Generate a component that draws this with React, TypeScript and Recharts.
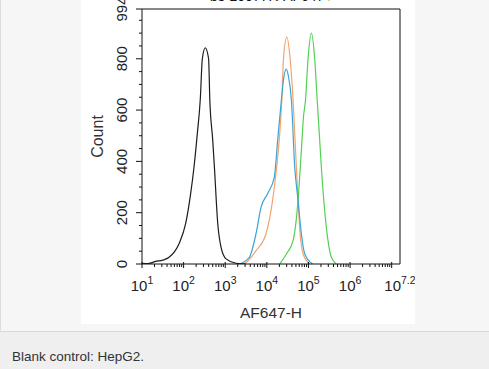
import { ComposedChart, Line, XAxis, YAxis, ReferenceLine } from "recharts";

// x values are log10(AF647-H), y values are counts
const blankLog = [1.0, 1.15, 1.33, 1.5, 1.65, 1.89, 2.05, 2.17, 2.25, 2.33, 2.4, 2.45, 2.52, 2.6, 2.63, 2.7, 2.74, 2.82, 2.9, 3.02, 3.26, 3.5];
const blankCount = [3, 2, 10, 15, 26, 79, 158, 275, 378, 509, 640, 800, 843, 800, 640, 482, 378, 158, 65, 20, 3, 0];

const isoOrangeLog = [3.4, 3.5, 3.74, 3.98, 4.1, 4.21, 4.31, 4.36, 4.4, 4.48, 4.56, 4.63, 4.69, 4.75, 4.8, 4.87, 5.03];
const isoOrangeCount = [0, 6, 52, 118, 208, 340, 509, 640, 800, 884, 800, 640, 443, 248, 118, 40, 0];

const isoBlueLog = [3.34, 3.58, 3.74, 3.86, 4.02, 4.18, 4.26, 4.35, 4.41, 4.47, 4.52, 4.59, 4.67, 4.75, 4.83, 4.91, 5.1];
const isoBlueCount = [0, 26, 118, 221, 275, 339, 482, 640, 730, 760, 730, 640, 378, 248, 118, 40, 0];

const antibodyLog = [4.31, 4.47, 4.63, 4.75, 4.83, 4.88, 4.93, 4.99, 5.07, 5.15, 5.21, 5.26, 5.31, 5.39, 5.47, 5.55, 5.67];
const antibodyCount = [0, 39, 91, 248, 443, 573, 640, 800, 900, 800, 640, 509, 378, 208, 91, 26, 0];

const xLabelTicks = [1, 2, 3, 4, 5, 6, 7.2];
const xLabelExp = ["1", "2", "3", "4", "5", "6", "7.2"];
const xDecades = [1, 2, 3, 4, 5, 6, 7];
const yMajor = [0, 200, 400, 600, 800, 994];

const xMinor: number[] = [];
xDecades.slice(0, 6).forEach((d) => {
  for (let k = 2; k <= 9; k++) xMinor.push(d + Math.log10(k));
});
const yMinor: number[] = [];
for (let v = 50; v < 994; v += 50) if (v % 200 !== 0) yMinor.push(v);

const rows = (xs: number[], ys: number[]) => xs.map((x, i) => ({ x, y: ys[i] }));

const font = "'Liberation Sans', Arial, sans-serif";

function XTick({ x, y, payload }: any) {
  const v = payload.value;
  const li = xLabelTicks.indexOf(v);
  const isDecade = xDecades.includes(v);
  return (
    <g>
      {isDecade ? (
        <line x1={x} x2={x} y1={y - 2} y2={y + 4} stroke="#111" />
      ) : li < 0 ? (
        <line x1={x} x2={x} y1={y} y2={y + 3} stroke="#111" />
      ) : null}
      {li >= 0 && (
        <text x={x} y={y + 27} textAnchor="middle" fontSize={15} fill="#222" fontFamily={font}>
          10<tspan dy={-7} fontSize={10.5}>{xLabelExp[li]}</tspan>
        </text>
      )}
    </g>
  );
}

function YTick({ x, y, payload }: any) {
  const v = payload.value;
  const major = yMajor.includes(v);
  return (
    <g>
      <line x1={x - (major ? 6 : 3)} x2={x} y1={y} y2={y} stroke="#111" />
      {major && (
        <text
          x={x - 15}
          y={y}
          transform={`rotate(-90, ${x - 15}, ${y})`}
          textAnchor="middle"
          fontSize={15}
          fill="#222"
          fontFamily={font}
        >
          {v}
        </text>
      )}
    </g>
  );
}

export default function App() {
  return (
    <div style={{ position: "relative", width: 489, height: 369, background: "#eeefee", overflow: "hidden", fontFamily: font }}>
      <style>{"body{margin:0}"}</style>
      <div
        style={{
          position: "absolute",
          left: 0,
          top: 0,
          width: 488,
          height: 331,
          background: "#f5f6f5",
          borderLeft: "1px solid #dcdedc",
          borderBottom: "1px solid #d6d8d6",
        }}
      />
      <div style={{ position: "absolute", left: 81, top: 0, width: 334, height: 324, background: "#fff", overflow: "hidden" }}>
        <div style={{ position: "absolute", left: 129, top: -12, fontSize: 14, whiteSpace: "nowrap", color: "#111" }}>
          bs-20077R-AF647 <span style={{ color: "#6fd36f" }}>/</span>
        </div>
        <ComposedChart width={334} height={324} margin={{ top: 9, right: 15, left: 0, bottom: 0 }}>
          <XAxis
            type="number"
            dataKey="x"
            domain={[1, 7.2]}
            allowDataOverflow
            ticks={[...xMinor, ...xDecades, 7.2]}
            interval={0}
            tickSize={0}
            tickMargin={0}
            tickLine={false}
            tick={<XTick />}
            axisLine={{ stroke: "#111" }}
            height={60}
            label={{ value: "AF647-H", position: "center", dx: 0, dy: 18, style: { fontSize: 15.5, fill: "#333", fontFamily: font } }}
          />
          <YAxis
            type="number"
            domain={[0, 994]}
            allowDataOverflow
            ticks={[0, ...yMinor, 200, 400, 600, 800, 994].sort((a, b) => a - b)}
            interval={0}
            tickSize={0}
            tickMargin={0}
            tickLine={false}
            tick={<YTick />}
            axisLine={{ stroke: "#111" }}
            width={61}
            label={{ value: "Count", angle: -90, position: "center", dx: -14, style: { fontSize: 16, fill: "#333", fontFamily: font } }}
          />
          <ReferenceLine y={994} stroke="#111" />
          <ReferenceLine x={7.2} stroke="#111" />
          <Line data={rows(isoOrangeLog, isoOrangeCount)} dataKey="y" type="monotone" stroke="#f3a46e" strokeWidth={1.2} dot={false} isAnimationActive={false} />
          <Line data={rows(antibodyLog, antibodyCount)} dataKey="y" type="monotone" stroke="#55d055" strokeWidth={1.2} dot={false} isAnimationActive={false} />
          <Line data={rows(isoBlueLog, isoBlueCount)} dataKey="y" type="monotone" stroke="#3aa5d4" strokeWidth={1.2} dot={false} isAnimationActive={false} />
          <Line data={rows(blankLog, blankCount)} dataKey="y" type="monotone" stroke="#1c1c1c" strokeWidth={1.2} dot={false} isAnimationActive={false} />
        </ComposedChart>
      </div>
      <div style={{ position: "absolute", left: 12, top: 349, fontSize: 13.5, lineHeight: "15px", color: "#333" }}>
        Blank control: HepG2.
      </div>
    </div>
  );
}
